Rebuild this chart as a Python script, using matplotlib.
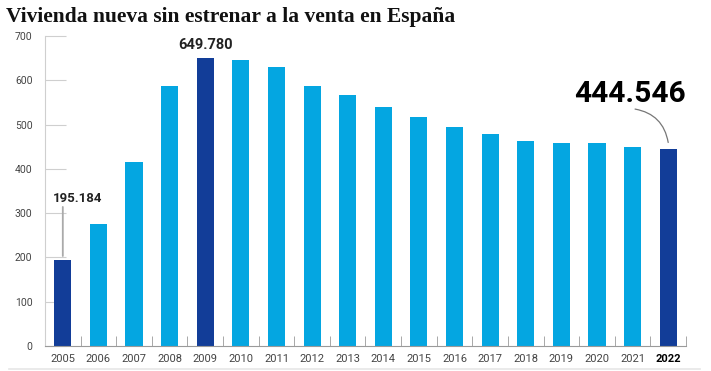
import numpy as np
import matplotlib.pyplot as plt
from matplotlib.lines import Line2D

years = ['2005', '2006', '2007', '2008', '2009', '2010', '2011', '2012', '2013',
         '2014', '2015', '2016', '2017', '2018', '2019', '2020', '2021', '2022']
values = [195.184, 275, 415, 587, 649.780, 645, 630, 586, 567,
          539, 517, 494, 479, 462, 458, 458, 449, 444.546]
highlight = ['2005', '2009', '2022']

light_blue = '#04A6E1'
dark_blue = '#123D98'

plt.rcParams['font.family'] = ['Roboto', 'DejaVu Sans']

fig = plt.figure(figsize=(7.11, 3.71), dpi=100)
ax = fig.add_axes([45 / 711, 25 / 371, 641 / 711, 310 / 371])

x = np.arange(len(years))
colors = [dark_blue if y in highlight else light_blue for y in years]
ax.bar(x, values, width=0.48, color=colors, zorder=2)

ax.set_xlim(-0.5, len(years) - 0.5)
ax.set_ylim(0, 700)

# spines
for s in ['top', 'right']:
    ax.spines[s].set_visible(False)
ax.spines['left'].set_color('#cfcfcf')
ax.spines['bottom'].set_color('#9a9a9a')

# y ticks
ax.set_yticks(range(0, 701, 100))
ax.tick_params(axis='y', direction='in', length=15, color='#cfcfcf',
               labelsize=7.5, labelcolor='#444444', pad=9)

# x ticks: labels at centres, small marks between bars
ax.set_xticks(x)
ax.set_xticklabels(years)
ax.tick_params(axis='x', which='major', length=0, labelsize=8,
               labelcolor='#444444', pad=6)
ax.set_xticks(np.arange(-0.5, len(years)), minor=True)
ax.tick_params(axis='x', which='minor', direction='in', length=7,
               color='#9a9a9a')
last = ax.get_xticklabels()[-1]
last.set_fontweight('bold')
last.set_color('black')

# 2005 label with a vertical leader
ax.annotate('', xy=(0, values[0] + 8), xytext=(0, 314),
            arrowprops=dict(arrowstyle='-', color='#aaaaaa', lw=1.3,
                            shrinkA=0, shrinkB=0))
ax.text(-0.28, 333, '195.184', ha='left', va='center', fontsize=9.5,
        fontweight='bold', color='#222222')

# 2009 label
ax.text(4, 679, '649.780', ha='center', va='center', fontsize=10.5,
        fontweight='bold', color='#222222')

# 2022 label with curved leader
ax.text(17.5, 569, '444.546', ha='right', va='center', fontsize=21.5,
        fontweight='bold', color='black')
ax.annotate('', xy=(17, values[-1] + 15), xytext=(16.07, 535),
            arrowprops=dict(arrowstyle='-', color='#777777', lw=0.9,
                            connectionstyle='arc3,rad=-0.35',
                            shrinkA=0, shrinkB=0))

fig.text(6 / 711, 1 - 17 / 371, 'Vivienda nueva sin estrenar a la venta en España',
         ha='left', va='center', fontsize=15.5, fontweight='bold',
         family=['Liberation Serif', 'DejaVu Serif'], color='#111111')

fig.add_artist(Line2D([9 / 711, 700 / 711], [2 / 371, 2 / 371],
                      color='#e6e6e6', lw=1.2))

fig.savefig('out.png', dpi=100)
